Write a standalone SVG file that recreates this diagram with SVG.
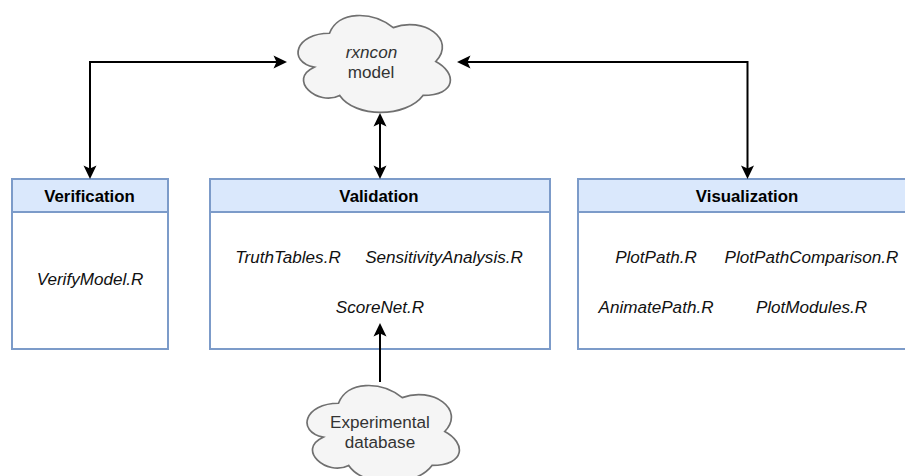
<svg xmlns="http://www.w3.org/2000/svg" width="905" height="476" viewBox="0 0 905 476">
<style>
text{font-family:"Liberation Sans",Arial,sans-serif;font-size:16.8px;text-anchor:middle}
.s{font-style:italic;fill:#111;font-size:17.1px}
.h{font-weight:bold;fill:#000}
.c{fill:#333;font-size:17.1px}
.box{fill:#fff;stroke:#7c9bc9;stroke-width:2}
.head{fill:#dae8fc;stroke:#7c9bc9;stroke-width:2}
.cloud{fill:#f5f5f5;stroke:#707070;stroke-width:1.700}
.l{fill:none;stroke:#000;stroke-width:2}
.a{fill:#000}
</style>
<defs>
<path id="cl" d="M42.500 28.250C8.500 28.250 0 56.500 27.200 62.150C0 74.580 30.600 101.700 52.700 90.400C68 113 119 113 136 90.400C170 90.400 170 67.800 148.750 56.500C170 33.900 136 11.300 106.250 22.600C85 5.650 51 5.650 42.500 28.250Z"/>
<path id="ar" d="M0 0L-6.500 13.500L0 10.500L6.500 13.500Z"/>
</defs>
<g id="rxncon-model">
<use href="#cl" class="cloud" transform="translate(287 5)"/>
<text class="c" x="371.500" y="58" style="font-style:italic">rxncon</text>
<text class="c" x="371" y="78">model</text>
</g>
<g id="experimental-database">
<use href="#cl" class="cloud" transform="translate(296 375)"/>
<text class="c" x="380" y="428">Experimental</text>
<text class="c" x="380" y="448">database</text>
</g>
<g id="verification">
<rect class="box" x="12" y="179" width="156" height="170"/>
<rect class="head" x="12" y="179" width="156" height="33"/>
<text class="h" x="89.500" y="202">Verification</text>
<text class="s" x="90" y="285">VerifyModel.R</text>
</g>
<g id="validation">
<rect class="box" x="210" y="179" width="340" height="170"/>
<rect class="head" x="210" y="179" width="340" height="33"/>
<text class="h" x="379" y="202">Validation</text>
<text class="s" x="288" y="263">TruthTables.R</text>
<text class="s" x="444" y="263">SensitivityAnalysis.R</text>
<text class="s" x="380" y="313">ScoreNet.R</text>
</g>
<g id="visualization">
<rect class="box" x="578" y="179" width="339" height="170"/>
<rect class="head" x="578" y="179" width="339" height="33"/>
<text class="h" x="747" y="202">Visualization</text>
<text class="s" x="656" y="263">PlotPath.R</text>
<text class="s" x="811.500" y="263">PlotPathComparison.R</text>
<text class="s" x="656" y="313">AnimatePath.R</text>
<text class="s" x="811.500" y="313">PlotModules.R</text>
</g>
<g id="connectors">
<path class="l" d="M90 170V62H278"/>
<use href="#ar" class="a" transform="translate(90 179) rotate(180)"/>
<use href="#ar" class="a" transform="translate(287 62) rotate(90)"/>
<path class="l" d="M380 122V170"/>
<use href="#ar" class="a" transform="translate(380 113)"/>
<use href="#ar" class="a" transform="translate(380 179) rotate(180)"/>
<path class="l" d="M747.500 170V62H466"/>
<use href="#ar" class="a" transform="translate(457 62) rotate(-90)"/>
<use href="#ar" class="a" transform="translate(747.500 179) rotate(180)"/>
<path class="l" d="M380 382V332"/>
<use href="#ar" class="a" transform="translate(380 323)"/>
</g>
</svg>
